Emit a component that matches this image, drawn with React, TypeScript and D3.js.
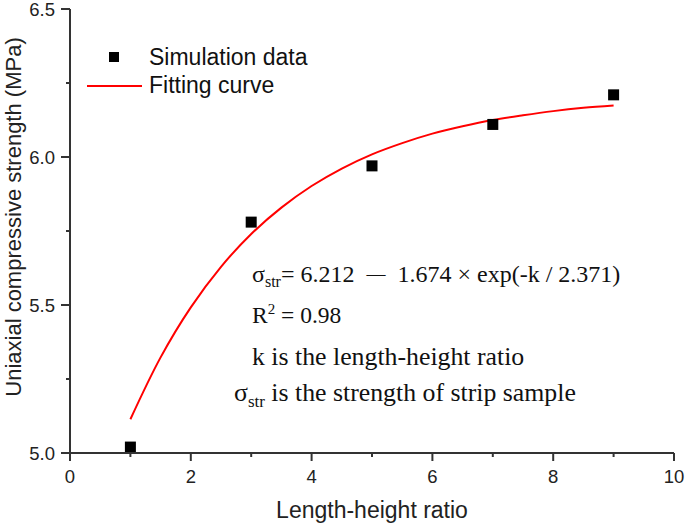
import React from "react";
import * as d3 from "d3";

const simK = [1, 3, 5, 7, 9];
const simStrength = [5.02, 5.78, 5.97, 6.11, 6.21];
const fitK = [1, 1.5, 2, 2.5, 3, 3.5, 4, 4.5, 5, 5.5, 6, 6.5, 7, 7.5, 8, 8.5, 9];
const fitStrength = [5.114, 5.323, 5.492, 5.629, 5.74, 5.829, 5.902, 5.961, 6.009, 6.047, 6.079, 6.104, 6.125, 6.141, 6.155, 6.166, 6.174];
const xTicks = [0, 2, 4, 6, 8, 10];
const xMinor = [1, 3, 5, 7, 9];
const yTicks = [5.0, 5.5, 6.0, 6.5];
const yMinor = [5.25, 5.75, 6.25];

export default function App() {
  const W = 685, H = 526;
  const x = d3.scaleLinear().domain([0, 10]).range([70, 674]);
  const y = d3.scaleLinear().domain([5.0, 6.5]).range([453, 9]);
  const line = d3.line<number>().x((_, i) => x(fitK[i])).y((d) => y(d)).curve(d3.curveCatmullRom);
  const axisColor = "#333";
  const sans = "Liberation Sans, Arial, sans-serif";
  const serif = "Liberation Serif, Times New Roman, serif";
  return (
    <svg width={W} height={H} style={{ position: "absolute", left: 0, top: 0, background: "#fff" }}>
      <path d={line(fitStrength) || ""} fill="none" stroke="#ff0000" strokeWidth={2} />
      {simK.map((k, i) => (
        <rect key={i} x={x(k) - 5.5} y={y(simStrength[i]) - 5.5} width={11} height={11} fill="#000" />
      ))}
      {/* axes */}
      <line x1={x(0)} x2={x(10)} y1={y(5)} y2={y(5)} stroke={axisColor} strokeWidth={2} />
      <line x1={x(0)} x2={x(0)} y1={y(5)} y2={y(6.5)} stroke={axisColor} strokeWidth={2} />
      {xTicks.map((t) => (
        <g key={t}>
          <line x1={x(t)} x2={x(t)} y1={y(5)} y2={y(5) + 8} stroke={axisColor} strokeWidth={2} />
          <text x={x(t)} y={y(5) + 30} textAnchor="middle" fontFamily={sans} fontSize={18.5} fill="#222">{t}</text>
        </g>
      ))}
      {xMinor.map((t) => (
        <line key={t} x1={x(t)} x2={x(t)} y1={y(5)} y2={y(5) + 4} stroke={axisColor} strokeWidth={2} />
      ))}
      {yTicks.map((t) => (
        <g key={t}>
          <line x1={x(0) - 9} x2={x(0)} y1={y(t)} y2={y(t)} stroke={axisColor} strokeWidth={2} />
          <text x={x(0) - 15} y={y(t) + 6.5} textAnchor="end" fontFamily={sans} fontSize={18.5} fill="#222">{t.toFixed(1)}</text>
        </g>
      ))}
      {yMinor.map((t) => (
        <line key={t} x1={x(0) - 4} x2={x(0)} y1={y(t)} y2={y(t)} stroke={axisColor} strokeWidth={2} />
      ))}
      <text x={372} y={518} textAnchor="middle" fontFamily={sans} fontSize={23} fill="#222">Length-height ratio</text>
      <text transform="translate(21,217) rotate(-90)" textAnchor="middle" fontFamily={sans} fontSize={22} fill="#222">Uniaxial compressive strength (MPa)</text>
      {/* legend */}
      <rect x={109} y={52} width={10} height={10} fill="#000" />
      <text x={149} y={65} fontFamily={sans} fontSize={23} fill="#111">Simulation data</text>
      <line x1={87} x2={142} y1={86} y2={86} stroke="#ff0000" strokeWidth={2} />
      <text x={149} y={93} fontFamily={sans} fontSize={23} fill="#111">Fitting curve</text>
      {/* annotation */}
      <text x={252} y={282} fontFamily={serif} fontSize={24} fill="#111">
        σ<tspan fontSize={16} dy={5}>str</tspan><tspan dy={-5}>= 6.212</tspan><tspan dx={12} dy={-2} fontSize={19}>—</tspan><tspan dx={12} dy={2}>1.674 × exp(-k / 2.371)</tspan>
      </text>
      <text x={252} y={323} fontFamily={serif} fontSize={23.5} fill="#111">
        R<tspan fontSize={15} dy={-9}>2</tspan><tspan dy={9}> = 0.98</tspan>
      </text>
      <text x={252} y={365} fontFamily={serif} fontSize={25.8} fill="#111">k is the length-height ratio</text>
      <text x={234} y={401} fontFamily={serif} fontSize={25.8} fill="#111">
        σ<tspan fontSize={17} dy={6}>str</tspan><tspan dy={-6}> is the strength of strip sample</tspan>
      </text>
    </svg>
  );
}
